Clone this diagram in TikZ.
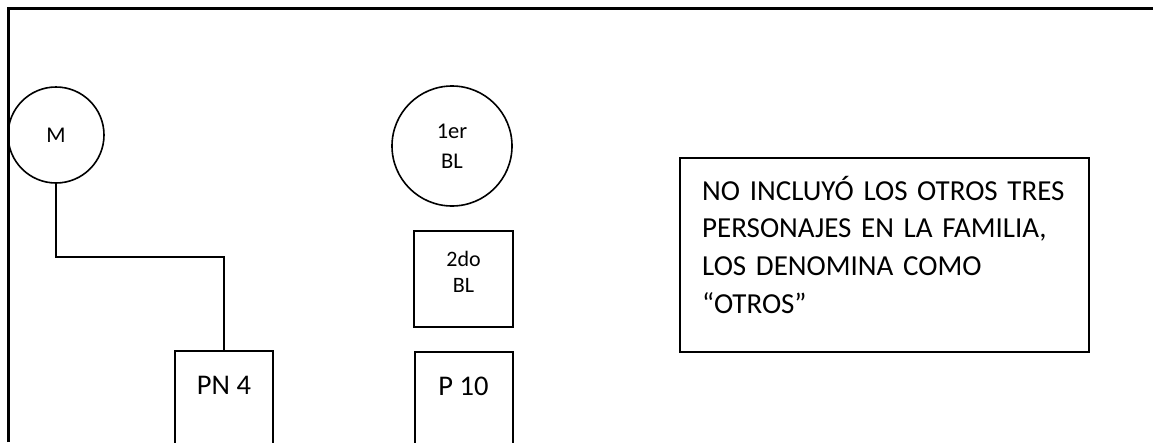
\documentclass[tikz,border=0pt]{standalone}
\usepackage{fontspec}
\setmainfont{Carlito}
\usepackage{tikz}

\tikzset{
  person/.style={circle, draw, line width=1.6pt, inner sep=0pt, align=center,
    font=\fontsize{22.5}{30}\selectfont},
  member/.style={rectangle, draw, line width=2pt, inner sep=0pt, align=center},
  bottom/.style={member, anchor=north, minimum width=98pt, inner ysep=10pt,
    text height=33pt, text depth=70pt, font=\fontsize{28.5}{34}\selectfont},
  link/.style={line width=1.8pt}
}

\begin{document}
\begin{tikzpicture}[x=1pt,y=-1pt]
        \clip (0,0) rectangle (1153,442);
        %\draw[gray] (0,0) grid[step=50] (1153,442);

        \draw[line width=3pt] (8,442) -- (8,8) -- (1153,8);

        \node[person, minimum size=96pt] (M) at (56,135) {M};
        \node[person, minimum size=120pt] (BL1) at (452,146) {1er\\BL};
        \node[member, minimum width=99pt, minimum height=96pt,
              font=\fontsize{22}{26}\selectfont] (BL2) at (463.5,279) {2do\\BL\\[-12pt]};

        \node[bottom] (PN4) at (224,350) {PN 4};
        \node[bottom] (P10) at (463.5,351) {P 10};

        \draw[link] (M.south) -- ++(0,73) -| (PN4.north);

        \node[member, minimum width=409pt, minimum height=194pt, anchor=north west] (note) at (679,157) {};
        \node[anchor=base west, inner sep=0pt, text width=380pt, align=left,
              font=\fontsize{29}{37.8}\selectfont] (notetext) at (702,200)
              {NO INCLUYÓ LOS OTROS TRES\\PERSONAJES EN LA FAMILIA,\\LOS DENOMINA COMO\\“OTROS”};
    \end{tikzpicture}
\end{document}
